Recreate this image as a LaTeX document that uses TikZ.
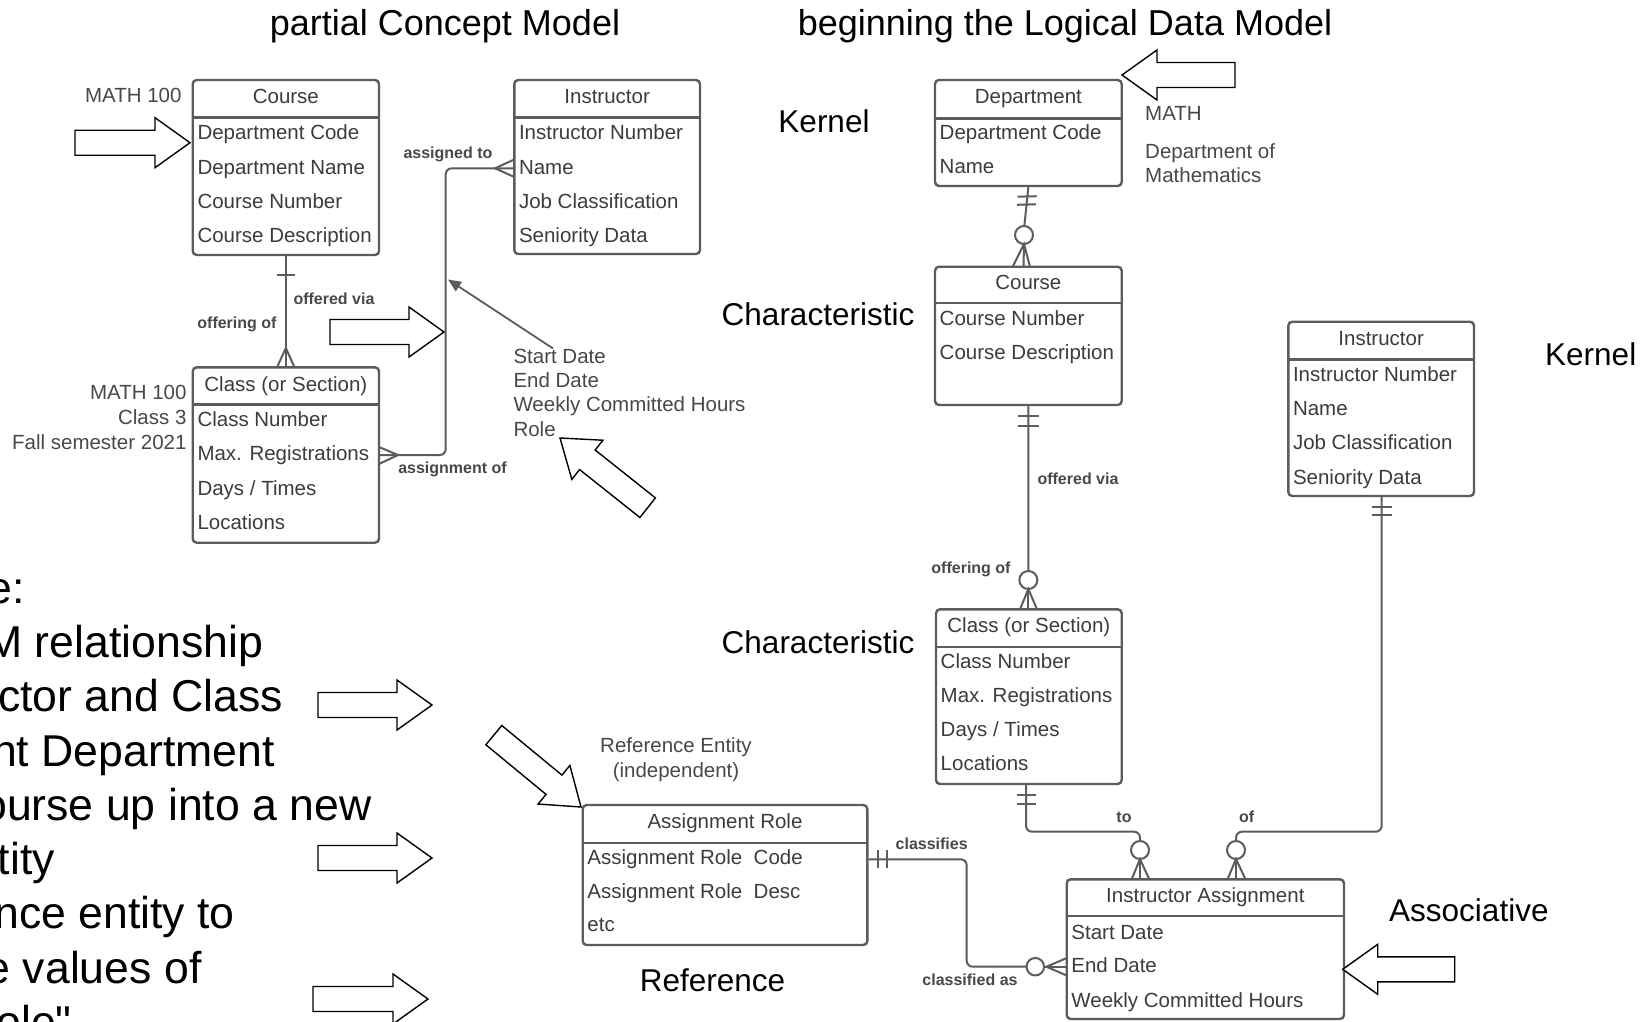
\documentclass[tikz,border=0pt]{standalone}
\usepackage{fontspec}
\setmainfont{Liberation Sans}
\newfontfamily\plainsans{Liberation Sans}
\usetikzlibrary{fit,arrows.meta}
\definecolor{ln}{HTML}{5C5C5C}
\definecolor{tx}{HTML}{3C3C3C}
\definecolor{lb}{HTML}{484848}
\tikzset{
 ebox/.style={draw=ln, line width=2.4pt, rounded corners=4pt, inner sep=0pt},
 sepline/.style={draw=ln, line width=2.4pt},
 attr/.style={font=\fontsize{20.5}{24}\selectfont, text=tx, inner sep=0pt, text height=14.7pt, text depth=0pt, anchor=west},
 hdr/.style={attr, anchor=center},
 lbl/.style={font=\fontsize{20.5}{24}\selectfont, text=lb, inner sep=0pt, text height=14.7pt, text depth=0pt},
 blbl/.style={font=\bfseries\fontsize{16}{19}\selectfont, text=lb, inner sep=0pt, text height=11.5pt, text depth=0pt},
 big/.style={font=\fontsize{31.5}{36}\selectfont, text=black, inner sep=0pt, text height=22.6pt, text depth=0pt},
 ttl/.style={font=\fontsize{36}{40}\selectfont, text=black, inner sep=0pt, text height=25.8pt, text depth=0pt},
 note/.style={font=\plainsans\fontsize{44.6}{50}\selectfont, text=black, inner sep=0pt, anchor=base east},
 conn/.style={draw=ln, line width=2pt, rounded corners=6pt},
 cf/.style={draw=ln, line width=2pt},
 ring/.style={draw=ln, line width=2pt, fill=white},
 blockarr/.style={draw=black, line width=1.4pt, fill=white, line join=miter},
}
\newcommand{\entity}[8]{%
  \node[ebox, fit={(#2,#3) (#4,#5)}] (#1) {};
  \draw[sepline] (#2,#6) -- (#4,#6);
  \node[hdr] (#1-h) at ({(#2+#4)/2},#8) {#7};
}
\newcommand{\eattr}[4]{\node[attr] (#1) at (#2,#3) {#4};}
\newcommand{\blockarrow}[4]{%
  \begin{scope}[shift={(#1,#2)}, rotate=#3]
    \draw[blockarr] (0,0) -- (-35,25) -- (-35,12.5) -- (-#4,12.5) -- (-#4,-12.5) -- (-35,-12.5) -- (-35,-25) -- cycle;
  \end{scope}}
\begin{document}
\begin{tikzpicture}[x=1pt,y=-1pt]
\useasboundingbox (0,0) rectangle (1651,1021);
\fill[white] (0,0) rectangle (1651,1021);
\clip (0,0) rectangle (1651,1021);

% titles
\node[ttl] (t1) at (445,22.5) {partial Concept Model};
\node[ttl] (t2) at (1065,22.5) {beginning the Logical Data Model};

% ================= Concept model =================
\entity{cc}{192.7}{80}{379}{255}{117.3}{Course}{96.5}
\eattr{cc1}{197.3}{132.5}{Department Code}
\eattr{cc2}{197.3}{166.7}{Department Name}
\eattr{cc3}{197.3}{200.8}{Course Number}
\eattr{cc4}{197.3}{234.8}{Course Description}

\entity{ci}{514.3}{80}{700}{254}{117.3}{Instructor}{96.5}
\eattr{ci1}{518.8}{132.2}{Instructor Number}
\eattr{ci2}{518.8}{167}{Name}
\eattr{ci3}{518.8}{200.8}{Job Classification}
\eattr{ci4}{518.8}{235}{Seniority Data}

\entity{cl}{192.7}{367.3}{379}{542.7}{404.3}{Class (or Section)}{384.2}
\eattr{cl1}{197.3}{419.2}{Class Number}
\eattr{cl2}{197.3}{453.5}{Max. Registrations}
\eattr{cl3}{197.3}{488}{Days / Times}
\eattr{cl4}{197.3}{522.5}{Locations}

\node[lbl, anchor=east] (m100) at (181.7,95) {MATH 100};
\node[lbl, anchor=east] (x1) at (186.7,391.7) {MATH 100};
\node[lbl, anchor=east] (x2) at (186.7,416.8) {Class 3};
\node[lbl, anchor=east] (x3) at (186.7,442.2) {Fall semester 2021};

\node[lbl, anchor=west] (sd1) at (513.3,356) {Start Date};
\node[lbl, anchor=west] (sd2) at (513.3,380) {End Date};
\node[lbl, anchor=west] (sd3) at (513.3,404) {Weekly Committed Hours};
\node[lbl, anchor=west] (sd4) at (513.3,429.3) {Role};

% course - class
\draw[conn] (cc.south) -- (cl.north);
\draw[cf] (277,275) -- (294.5,275);
\draw[cf] (277,367.3) -- (285.85,348) -- (294.5,367.3);
\node[blbl, anchor=west] (ov1) at (293.3,298.3) {offered via};
\node[blbl, anchor=east] (of1) at (276.7,322.7) {offering of};

% class - instructor
\draw[conn] (cl.east |- 0,455) -- (445.7,455) -- (445.7,168.3) -- (ci.west |- 0,168.3);
\draw[cf] (379,447) -- (398,455) -- (379,464);
\draw[cf] (514.3,159.5) -- (495,168.3) -- (514.3,177);
\node[blbl] (as1) at (448,153) {assigned to};
\node[blbl] (as2) at (452.5,468) {assignment of};

% pointer from attribute list
\draw[draw=ln, line width=1.8pt, -{Triangle[length=13pt,width=11pt]}] (sd1.north -| 553,0) -- (448,279.5);

% ================= Logical model =================
\entity{dep}{935}{80}{1121.7}{186}{118.3}{Department}{95.8}
\eattr{dep1}{939.5}{132.2}{Department Code}
\eattr{dep2}{939.5}{166.3}{Name}

\entity{lco}{935}{266.7}{1121.7}{405}{302.7}{Course}{282}
\eattr{lco1}{939.5}{317.8}{Course Number}
\eattr{lco2}{939.5}{352.2}{Course Description}

\entity{lcl}{936}{609.3}{1121.7}{784}{646.7}{Class (or Section)}{624.8}
\eattr{lcl1}{940.5}{660.8}{Class Number}
\eattr{lcl2}{940.5}{695.2}{Max. Registrations}
\eattr{lcl3}{940.5}{729.2}{Days / Times}
\eattr{lcl4}{940.5}{763.3}{Locations}

\entity{lin}{1288.3}{321.7}{1474}{496}{359.3}{Instructor}{338.3}
\eattr{lin1}{1292.8}{373.8}{Instructor Number}
\eattr{lin2}{1292.8}{407.7}{Name}
\eattr{lin3}{1292.8}{442.5}{Job Classification}
\eattr{lin4}{1292.8}{477.2}{Seniority Data}

\entity{ar}{582.7}{805}{867.3}{945}{842.7}{Assignment Role}{820.8}
\eattr{ar1}{587.2}{856.7}{Assignment Role\ \ Code}
\eattr{ar2}{587.2}{890.8}{Assignment Role\ \ Desc}
\eattr{ar3}{587.2}{924.5}{etc}

\entity{ia}{1066.7}{879.3}{1344}{1019}{916}{Instructor Assignment}{895.5}
\eattr{ia1}{1071.2}{932.2}{Start Date}
\eattr{ia2}{1071.2}{965.5}{End Date}
\eattr{ia3}{1071.2}{999.7}{Weekly Committed Hours}

\node[lbl, anchor=west] (mt1) at (1145,113.3) {MATH};
\node[lbl, anchor=west] (mt2) at (1145,150.7) {Department of};
\node[lbl, anchor=west] (mt3) at (1145,175) {Mathematics};

\node[lbl] (re1) at (676,745) {Reference Entity};
\node[lbl] (re2) at (676,770) {(independent)};

% department - course
\draw[conn] (dep.south) -- (1024.3,226);
\draw[cf] (1017.5,196.7) -- (1036.5,196.2);
\draw[cf] (1017,204.8) -- (1036,204.3);
\node[ring, circle, inner sep=0pt, minimum size=18pt] (r1) at (1024,235) {};
\draw[cf] (1012.7,266.7) -- (1024,244) -- (1030,266.7);
\draw[cf] (1024,244) -- (1023.5,266.7);

% course - class (LDM)
\draw[conn] (lco.south) -- (1028.35,571);
\draw[cf] (1018,416) -- (1038.5,416);
\draw[cf] (1018,426) -- (1038.5,426);
\node[ring, circle, inner sep=0pt, minimum size=18pt] (r2) at (1028.35,580) {};
\draw[cf] (1020,609.3) -- (1028.35,589) -- (1037,609.3);
\draw[cf] (1028.35,589) -- (1028.35,609.3);
\node[blbl] (ov2) at (1078,478.3) {offered via};
\node[blbl] (of2) at (971,567.3) {offering of};

% class - instructor assignment
\draw[conn] (lcl.south -| 1026,0) -- (1026,831.7) -- (1140,831.7) -- (1140,841);
\draw[cf] (1016.7,795) -- (1035.5,795);
\draw[cf] (1016.7,804) -- (1035.5,804);
\node[ring, circle, inner sep=0pt, minimum size=18pt] (r3) at (1140,850) {};
\draw[cf] (1131.7,879.3) -- (1140,859) -- (1149.3,879.3);
\draw[cf] (1140,859) -- (1140,879.3);
\node[blbl] (to1) at (1124,816.7) {to};

% instructor - instructor assignment
\draw[conn] (lin.south -| 1381.7,0) -- (1381.7,831.7) -- (1236,831.7) -- (1236,841);
\draw[cf] (1371.7,506.7) -- (1391.7,506.7);
\draw[cf] (1371.7,515) -- (1391.7,515);
\node[ring, circle, inner sep=0pt, minimum size=18pt] (r4) at (1236,850) {};
\draw[cf] (1227.5,879.3) -- (1236,859) -- (1245.5,879.3);
\draw[cf] (1236,859) -- (1236,879.3);
\node[blbl] (of3) at (1246.7,816.7) {of};

% assignment role - instructor assignment
\draw[conn] (ar.east |- 0,859.3) -- (966.7,859.3) -- (966.7,966.7) -- (1026.5,966.7);
\draw[cf] (878,850) -- (878,868);
\draw[cf] (887,850) -- (887,868);
\node[ring, circle, inner sep=0pt, minimum size=17.5pt] (r5) at (1035.3,966.7) {};
\draw[cf] (1066.7,958) -- (1046.5,966.7) -- (1066.7,975.5);
\draw[cf] (1044,966.7) -- (1066.7,966.7);
\node[blbl] (cl5) at (931.7,843.3) {classifies};
\node[blbl] (cl6) at (970,980) {classified as};

% big category labels
\node[big] (k1) at (824,121) {Kernel};
\node[big] (ch1) at (818,314) {Characteristic};
\node[big] (ch2) at (818,642.3) {Characteristic};
\node[big, anchor=west] (k2) at (1545,354.5) {Kernel};
\node[big] (rf) at (712.5,980) {Reference};
\node[big, anchor=west] (asc) at (1389,910.5) {Associative};

% left note text (cut by the page edge, as in the reference)
\node[note] (n1) at (25,603.3) {e:};
\node[note] (n2) at (263.3,657.6) {M relationship};
\node[note] (n3) at (283.3,711.8) {ctor and Class};
\node[note] (n4) at (275,766) {nt Department};
\node[note] (n5) at (371.7,820.3) {ourse up into a new};
\node[note] (n6) at (55,874.5) {tity};
\node[note] (n7) at (235,928.8) {nce entity to};
\node[note] (n8) at (201.7,983) {e values of};
\node[note] (n9) at (72,1037.3) {ole"};

% block arrows
\blockarrow{190}{142.7}{0}{115}
\blockarrow{444}{332}{0}{114}
\blockarrow{560}{438}{141.5}{112}
\blockarrow{432}{705}{0}{114}
\blockarrow{432}{858}{0}{114}
\blockarrow{428}{999}{0}{115}
\blockarrow{581}{807}{-39.5}{113}
\blockarrow{1122}{75}{180}{113}
\blockarrow{1342.7}{969.3}{180}{112}
\end{tikzpicture}
\end{document}
